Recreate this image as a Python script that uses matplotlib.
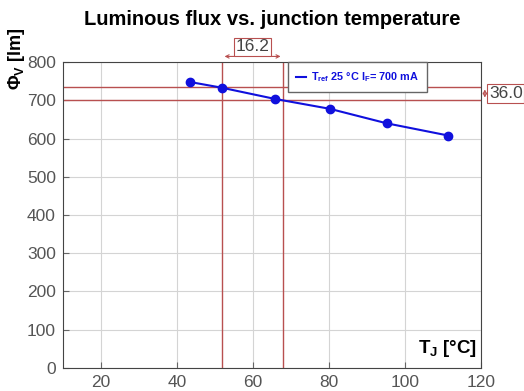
import matplotlib.pyplot as plt
from matplotlib.lines import Line2D

plt.rcParams['font.family'] = ['Liberation Sans', 'DejaVu Sans']
plt.rcParams['mathtext.fontset'] = 'custom'
plt.rcParams['mathtext.rm'] = 'Liberation Sans'
plt.rcParams['mathtext.bf'] = 'Liberation Sans:bold'

# data
tj = [43.5, 51.9, 65.7, 80.2, 95.2, 111.4]
flux = [748, 733, 704, 678, 640, 608]
vlines = [51.8, 68.0]
hlines = [700, 736]
xticks = [20, 40, 60, 80, 100, 120]
yticks = [0, 100, 200, 300, 400, 500, 600, 700, 800]

fig = plt.figure(figsize=(5.24, 3.91), dpi=100)
ax = fig.add_axes([0.120, 0.059, 0.798, 0.782])

ax.set_xlim(10, 120)
ax.set_ylim(0, 800)
ax.set_xticks(xticks)
ax.set_yticks(yticks)
ax.grid(True, color='#d4d4d4', linewidth=0.8)
ax.tick_params(direction='in', length=4, colors='#666666', labelsize=12.5,
               labelcolor='#555555', pad=5)
for s in ax.spines.values():
    s.set_color('#444444')

red = '#b85050'
for v in vlines:
    ax.axvline(v, color=red, linewidth=1.0)
for h in hlines:
    ax.axhline(h, color=red, linewidth=1.0)

ax.plot(tj, flux, color='#1010dd', linewidth=1.5, marker='o', markersize=6)

handle = Line2D([], [], color='#1010dd', linewidth=1.5)
leg = ax.legend([handle], [r'$\mathbf{T_{ref}}$ 25 °C $\mathbf{I_F}$= 700 mA'],
                loc='upper left', bbox_to_anchor=(0.538, 1.0), fontsize=7.8,
                handlelength=0.9, handletextpad=0.5, borderpad=0.75,
                borderaxespad=0, fancybox=False, framealpha=1,
                edgecolor='#666666')
for t in leg.get_texts():
    t.set_color('#1010dd')
    t.set_fontweight('bold')

# dimension annotations
ax.annotate('', xy=(vlines[0], 815), xytext=(vlines[1], 815),
            arrowprops=dict(arrowstyle='<->', color=red, lw=0.8,
                            mutation_scale=6), annotation_clip=False)
ax.text(sum(vlines) / 2, 840, '16.2', ha='center', va='center', fontsize=12.5,
        color='#444444', clip_on=False,
        bbox=dict(boxstyle='square,pad=0.1', fc='white', ec=red, lw=0.8))
ax.annotate('', xy=(121, hlines[0]), xytext=(121, hlines[1]),
            arrowprops=dict(arrowstyle='<->', color=red, lw=0.8,
                            mutation_scale=6), annotation_clip=False)
ax.text(126.5, sum(hlines) / 2, '36.0', ha='center', va='center', fontsize=12.5,
        color='#444444', clip_on=False,
        bbox=dict(boxstyle='square,pad=0.1', fc='white', ec=red, lw=0.8))

ax.text(0.99, 0.03, r'$\mathbf{T_J}$ [°C]', transform=ax.transAxes,
        ha='right', va='bottom', fontsize=13.5, fontweight='bold')
fig.text(0.032, 0.93, r'$\mathbf{\Phi_V}$ [lm]', rotation=90, ha='center',
         va='top', fontsize=13, fontweight='bold')

fig.suptitle('Luminous flux vs. junction temperature', x=0.52, y=0.975,
             fontsize=14.5, fontweight='bold')

fig.savefig('out.png', dpi=100)
